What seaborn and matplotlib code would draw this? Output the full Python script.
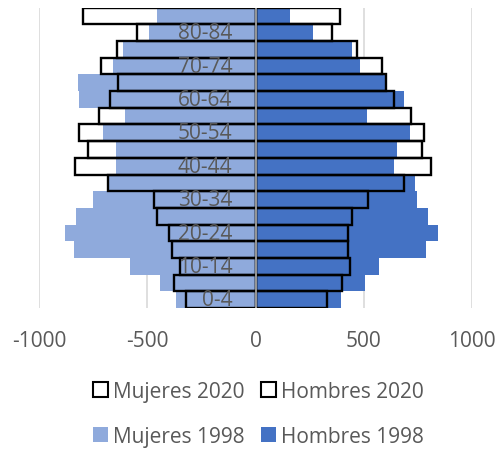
import pandas as pd
import matplotlib.pyplot as plt
import seaborn as sns
from matplotlib.patches import Patch

# Age groups, top of the pyramid first
edades = ["85+", "80-84", "75-79", "70-74", "65-69", "60-64", "55-59", "50-54",
          "45-49", "40-44", "35-39", "30-34", "25-29", "20-24", "15-19",
          "10-14", "5-9", "0-4"]
etiquetas = ["80-84", "70-74", "60-64", "50-54", "40-44", "30-34",
             "20-24", "10-14", "0-4"]

mujeres_1998 = [456, 492, 612, 660, 818, 815, 603, 704, 644, 644, 675, 749,
                830, 880, 840, 580, 440, 369]
hombres_1998 = [159, 267, 446, 483, 600, 687, 515, 712, 654, 638, 735, 745,
                798, 842, 786, 572, 503, 395]
mujeres_2020 = [795, 546, 640, 714, 637, 672, 723, 817, 775, 832, 680, 469,
                454, 400, 387, 350, 375, 320]
hombres_2020 = [390, 352, 470, 586, 603, 640, 718, 777, 770, 812, 686, 518,
                446, 427, 427, 436, 401, 330]

df = pd.DataFrame({
    "edad": edades,
    "m1998": [-v for v in mujeres_1998],
    "h1998": hombres_1998,
    "m2020": [-v for v in mujeres_2020],
    "h2020": hombres_2020,
})

gris = "#595959"
claro = "#8FAADC"
oscuro = "#4472C4"

sns.set_style("white")
plt.rcParams["font.family"] = ["Open Sans", "DejaVu Sans"]

fig = plt.figure(figsize=(4.97, 4.52), dpi=100)
ax = fig.add_axes([0.0785, 0.316, 0.8715, 0.665])

# 2020 white fill (behind)
for col in ["m2020", "h2020"]:
    sns.barplot(data=df, x=col, y="edad", order=edades, orient="h",
                color="white", width=1, linewidth=0, ax=ax)
# 1998 filled bars
sns.barplot(data=df, x="m1998", y="edad", order=edades, orient="h",
            color=claro, width=1, linewidth=0, saturation=1, ax=ax)
sns.barplot(data=df, x="h1998", y="edad", order=edades, orient="h",
            color=oscuro, width=1, linewidth=0, saturation=1, ax=ax)
# 2020 outlines on top
for col in ["m2020", "h2020"]:
    sns.barplot(data=df, x=col, y="edad", order=edades, orient="h",
                color="black", fill=False, width=1, linewidth=1.7, ax=ax)

ax.set_xlim(-1000, 1000)
ax.set_ylim(len(edades) - 0.5, -0.5)
ax.set_xticks([-1000, -500, 0, 500, 1000])
ax.set_xticklabels(["-1000", "-500", "0", "500", "1000"])
ax.set_yticks([])
ax.set_xlabel("")
ax.set_ylabel("")
for s in ax.spines.values():
    s.set_visible(False)

for x in [-1000, -500, 500, 1000]:
    ax.axvline(x, color="#D9D9D9", lw=1.2, zorder=0)
ax.axvline(0, color="#A6A6A6", lw=1.3, zorder=5)

ax.tick_params(axis="x", length=0, pad=16, labelsize=15, labelcolor=gris)

for lab in etiquetas:
    ax.text(-108, edades.index(lab), lab, ha="right", va="center",
            fontsize=15, color=gris, zorder=6)

handles = [
    Patch(facecolor="white", edgecolor="black", linewidth=1.5, label="Mujeres 2020"),
    Patch(facecolor=claro, edgecolor="none", label="Mujeres 1998"),
    Patch(facecolor="white", edgecolor="black", linewidth=1.5, label="Hombres 2020"),
    Patch(facecolor=oscuro, edgecolor="none", label="Hombres 1998"),
]
fig.legend(handles=handles, loc="center", bbox_to_anchor=(0.52, 0.082), ncol=2,
           frameon=False, fontsize=15, labelcolor=gris, handlelength=0.7,
           handleheight=0.7, handletextpad=0.25, columnspacing=0.8,
           labelspacing=1.15)

fig.savefig("out.png", dpi=100)
